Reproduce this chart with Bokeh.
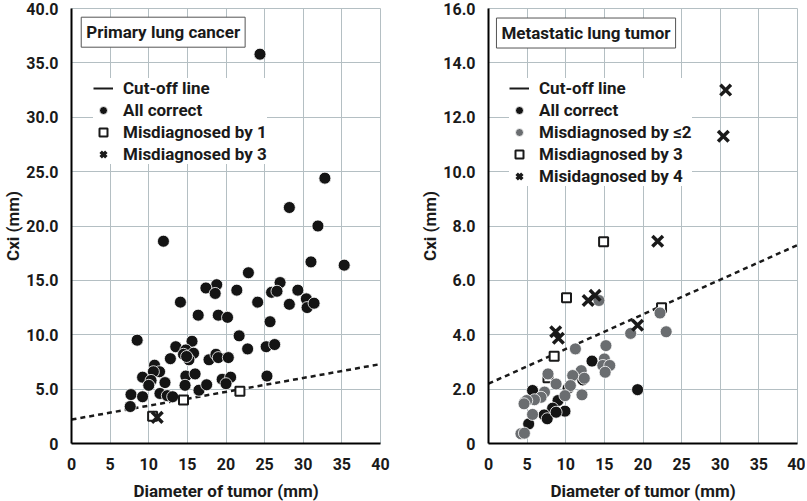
from bokeh.plotting import figure
from bokeh.layouts import row
from bokeh.models import Legend, LegendItem, Label, FixedTicker, NumeralTickFormatter, Range1d
from bokeh.embed import file_html
from bokeh.resources import INLINE

FONT = "Roboto"
FS = "17px"
TICK_FS = "16px"

# ---------------- data: primary lung cancer ----------------
pc_correct_x = [24.4, 32.8, 28.2, 31.9, 11.9, 31.0, 35.3, 22.9, 18.8, 17.4, 18.6, 21.4, 27.0, 25.9,
                26.6, 29.3, 24.1, 28.2, 30.4, 30.5, 31.4, 14.1, 16.4, 19.0, 20.2, 25.7, 21.7, 8.5,
                15.6, 13.5, 14.8, 14.5, 15.8, 15.2, 14.9, 12.8, 17.8, 18.7, 19.0, 20.3, 22.8, 25.2,
                26.3, 10.75, 11.4, 10.6, 9.2, 10.3, 10.0, 12.1, 14.8, 16.0, 14.7, 16.5, 17.5, 19.5,
                20.6, 20.0, 25.3, 7.7, 9.2, 11.45, 12.4, 13.1, 7.6]
pc_correct_y = [35.8, 24.4, 21.7, 20.0, 18.6, 16.7, 16.4, 15.7, 14.6, 14.3, 13.8, 14.1, 14.8, 13.9,
                14.0, 14.1, 13.0, 12.8, 13.3, 12.5, 12.9, 13.0, 11.8, 11.8, 11.6, 11.2, 9.9, 9.5,
                9.4, 8.9, 8.6, 8.2, 8.3, 7.7, 8.0, 7.8, 7.7, 8.2, 7.9, 7.9, 8.7, 8.9,
                9.1, 7.2, 6.6, 6.6, 6.1, 5.8, 5.35, 5.6, 6.2, 6.4, 5.35, 4.9, 5.4, 5.9,
                6.1, 5.5, 6.2, 4.5, 4.3, 4.6, 4.4, 4.3, 3.4]
pc_mis1_x = [14.5, 21.8, 10.5]
pc_mis1_y = [4.0, 4.8, 2.5]
pc_mis3_x = [11.1]
pc_mis3_y = [2.4]

# ---------------- data: metastatic lung tumor ----------------
mt_correct_x = [13.4, 12.2, 10.3, 5.7, 4.75, 9.0, 8.3, 9.9, 7.2, 7.6, 8.75, 5.2, 19.3]
mt_correct_y = [3.03, 2.34, 2.03, 1.95, 1.54, 1.58, 1.30, 1.19, 1.05, 0.91, 1.15, 0.72, 1.98]
mt_mis2_x = [14.3, 18.4, 22.2, 23.0, 11.25, 15.2, 15.0, 14.8, 15.7, 15.1, 12.0, 12.4, 10.9, 10.6,
             7.7, 8.75, 7.25, 6.8, 5.95, 4.95, 12.1, 9.9, 5.7, 4.2, 4.65, 4.6]
mt_mis2_y = [5.26, 4.05, 4.80, 4.11, 3.48, 3.60, 3.11, 2.87, 2.87, 2.62, 2.68, 2.40, 2.50, 2.13,
             2.56, 2.19, 1.89, 1.70, 1.61, 1.58, 1.79, 1.76, 1.07, 0.36, 0.38, 1.46]
mt_mis3_x = [14.9, 10.1, 8.5, 22.4, 7.7]
mt_mis3_y = [7.42, 5.36, 3.21, 4.99, 2.42]
mt_mis4_x = [21.9, 8.7, 9.05, 12.9, 13.8, 19.3, 30.7, 30.4]
mt_mis4_y = [7.44, 4.11, 3.87, 5.26, 5.45, 4.35, 13.0, 11.3]

cut_x = [0, 40]
cut_y = [2.2, 7.3]

x_ticks = [0, 5, 10, 15, 20, 25, 30, 35, 40]
pc_y_ticks = [0, 5, 10, 15, 20, 25, 30, 35, 40]
mt_y_ticks = [0, 2, 4, 6, 8, 10, 12, 14, 16]

NAN = [float("nan")]

GRID = "#b4bfc3"
BLACK = "#141414"
GREY = "#6a6d70"


def base_panel(ymax, yticks, border_left, border_right):
    p = figure(x_range=Range1d(0, 40), y_range=Range1d(0, ymax),
               output_backend="svg", toolbar_location=None,
               min_border_left=border_left, min_border_right=border_right,
               min_border_top=8, min_border_bottom=52)
    p.frame_width = 309
    p.frame_height = 435
    p.background_fill_color = "white"
    p.border_fill_color = "white"
    p.outline_line_color = GRID
    p.outline_line_width = 1
    for g, t in ((p.xgrid, x_ticks), (p.ygrid, yticks)):
        g.ticker = FixedTicker(ticks=t)
        g.grid_line_color = GRID
        g.grid_line_width = 1
    for ax, t in ((p.xaxis, x_ticks), (p.yaxis, yticks)):
        ax.ticker = FixedTicker(ticks=t)
        ax.axis_line_width = 2
        ax.axis_line_color = "black"
        ax.major_tick_line_color = None
        ax.minor_tick_line_color = None
        ax.major_label_text_font = FONT
        ax.major_label_text_font_style = "bold"
        ax.major_label_text_font_size = TICK_FS
        ax.major_label_text_color = "#1a1a1a"
        ax.axis_label_text_font = FONT
        ax.axis_label_text_font_style = "bold"
        ax.axis_label_text_font_size = FS
        ax.axis_label_text_color = "#1a1a1a"
    p.yaxis.formatter = NumeralTickFormatter(format="0.0")
    p.yaxis.major_label_overrides = {0: "0"}
    p.xaxis.axis_label = "Diameter of tumor (mm)"
    p.yaxis.axis_label = "Cxi (mm)"
    p.xaxis.major_label_standoff = 8
    p.xaxis.axis_label_standoff = 8
    p.yaxis.major_label_standoff = 7
    p.yaxis.axis_label_standoff = 0
    return p


def title_box(p, x, y, text):
    lab = Label(x=x, y=y, text=text, anchor="top_left", text_font=FONT,
                text_font_style="bold", text_font_size=FS, text_color="#1a1a1a",
                border_line_color="#555555", border_line_width=1,
                background_fill_color="white", padding=5)
    p.add_layout(lab)


def legend_for(p, items, loc):
    leg = Legend(items=items, location=loc, background_fill_color="white",
                 background_fill_alpha=1.0, border_line_color=None,
                 label_text_font=FONT, label_text_font_style="bold",
                 label_text_font_size=FS, label_text_color="#1a1a1a",
                 glyph_width=20, glyph_height=20, label_height=20, spacing=2,
                 padding=14, label_standoff=10, margin=0)
    p.add_layout(leg)


# ---------------- left panel ----------------
p1 = base_panel(40, pc_y_ticks, 64, 29)
l_cut = p1.line(cut_x, cut_y, line_dash="5 4", line_width=2.5, line_color="#1a1a1a")
l_dummy = p1.line(x=NAN, y=NAN, line_width=2, line_color="#1a1a1a")
r_ok = p1.scatter(pc_correct_x, pc_correct_y, marker="circle", size=12, fill_color=BLACK,
                  line_color="white", line_width=0.8)
r_m1 = p1.scatter(pc_mis1_x, pc_mis1_y, marker="square", size=9, fill_color="white",
                  line_color="#1a1a1a", line_width=2)
r_m3 = p1.scatter(pc_mis3_x, pc_mis3_y, marker="x", size=15, line_color="#1a1a1a", line_width=3.5)
title_box(p1, 1.26, 39.2, "Primary lung cancer")
legend_for(p1, [LegendItem(label="Cut-off line", renderers=[l_dummy]),
                LegendItem(label="All correct", renderers=[r_ok]),
                LegendItem(label="Misdiagnosed by 1", renderers=[r_m1]),
                LegendItem(label="Misdiagnosed by 3", renderers=[r_m3])], (22, 279))

# ---------------- right panel ----------------
p2 = base_panel(16, mt_y_ticks, 79, 8)
m_cut = p2.line(cut_x, cut_y, line_dash="5 4", line_width=2.5, line_color="#1a1a1a")
m_dummy = p2.line(x=NAN, y=NAN, line_width=2, line_color="#1a1a1a")
q_m3 = p2.scatter(mt_mis3_x, mt_mis3_y, marker="square", size=9, fill_color="white",
                  line_color="#1a1a1a", line_width=2)
q_ok = p2.scatter(mt_correct_x, mt_correct_y, marker="circle", size=12, fill_color=BLACK,
                  line_color="white", line_width=0.8)
q_m2 = p2.scatter(mt_mis2_x, mt_mis2_y, marker="circle", size=12, fill_color=GREY,
                  line_color="white", line_width=0.8)
q_m4 = p2.scatter(mt_mis4_x, mt_mis4_y, marker="x", size=15, line_color="#1a1a1a", line_width=3.5)
title_box(p2, 1.03, 15.65, "Metastatic lung tumor")
legend_for(p2, [LegendItem(label="Cut-off line", renderers=[m_dummy]),
                LegendItem(label="All correct", renderers=[q_ok]),
                LegendItem(label="Misdiagnosed by \u22642", renderers=[q_m2]),
                LegendItem(label="Misdiagnosed by 3", renderers=[q_m3]),
                LegendItem(label="Misidagnosed by 4", renderers=[q_m4])], (21, 257))

layout = row(p1, p2)
open("out.html", "w").write(file_html(layout, INLINE))
